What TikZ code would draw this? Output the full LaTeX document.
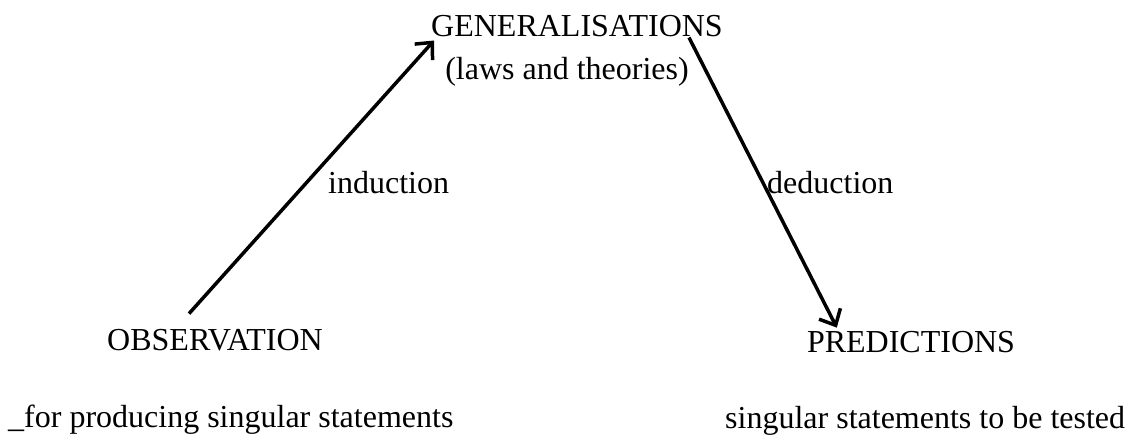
\documentclass[tikz,border=0pt]{standalone}
\usepackage{fontspec}
\setmainfont{Liberation Serif}
\usepackage{tikz}
\usetikzlibrary{arrows.meta,positioning}

\begin{document}
\begin{tikzpicture}[x=1pt,y=-1pt,font=\fontsize{32}{38}\selectfont,
  term/.style={inner sep=0pt,anchor=base},
  note/.style={inner sep=0pt,anchor=base west},
  link/.style={line width=3.5pt,-{Straight Barb[length=13pt,width=24pt]}}]
\useasboundingbox (0,0) rectangle (1132,436);
\node[term] (gen) at (577,37) {GENERALISATIONS};
\node[term] (genlaw) at (567,79) {(laws and theories)};
\node[term] (obs) at (215,350) {OBSERVATION};
\node[term] (pred) at (911,352) {PREDICTIONS};
\node[note] (ind) at (328,193) {induction};
\node[note] (ded) at (767,193) {deduction};
\node[note] (obsnote) at (8,427) {\_for producing singular statements};
\node[note] (prednote) at (725,428) {singular statements to be tested};
\draw[link] ([xshift=82pt,yshift=15pt]obs.north west) -- ([xshift=3pt,yshift=-3pt]gen.south west);
\draw[link] ([xshift=-34pt]gen.south east) -- ([xshift=30pt,yshift=3pt]pred.north west);
\end{tikzpicture}
\end{document}
